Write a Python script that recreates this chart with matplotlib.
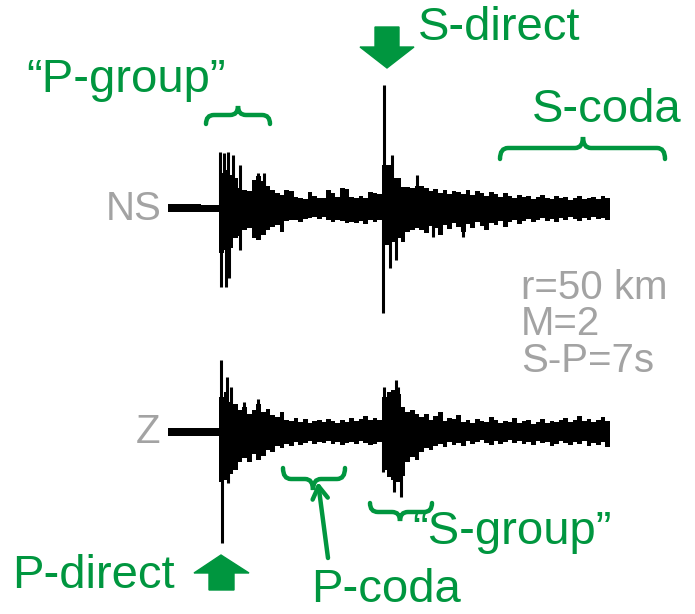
"""Sismograma NS / Z con fases P y S anotadas."""

import matplotlib.pyplot as plt
import numpy as np
from matplotlib.path import Path
from matplotlib.patches import PathPatch, Polygon

plt.rcParams["font.family"] = ["Liberation Sans", "DejaVu Sans"]

verde = "#00963F"
gris = "#A3A3A3"

# envolvente de la traza en bins de 0.2 s (arriba / abajo, en cuentas)
BIN_S = 0.2
ns_up = [4, 4, 4, 4, 4, 4, 4, 3, 3, 3, 3,
         35, 38, 33, 30, 20, 18, 17, 28, 32, 27, 22,
         18, 15, 13, 18, 17, 11, 10, 9, 16, 12, 10, 10, 18, 15, 11, 20, 19, 11,
         10, 12, 10, 16, 15, 14,
         43, 43, 30, 30, 21, 21, 20, 22,
         22, 20, 17, 19, 15, 18, 14, 17, 16, 14, 18, 13, 17, 15, 12, 16, 14, 11,
         15, 12, 10, 13, 11, 12, 9, 11, 13, 10, 9, 12, 10, 11, 8, 10, 12, 9, 10,
         11, 9, 12, 10]
ns_dn = [4, 4, 4, 4, 4, 4, 4, 4, 4, 4, 4,
         45, 42, 40, 30, 28, 22, 20, 30, 32, 27, 22,
         19, 17, 24, 13, 12, 12, 14, 11, 10, 9, 11, 9, 12, 14, 12, 13, 15, 14,
         15, 13, 16, 12, 14, 12,
         37, 37, 34, 30, 34, 24, 22, 20,
         22, 25, 18, 20, 27, 17, 21, 15, 19, 24, 16, 20, 14, 18, 22, 15, 17, 13,
         19, 14, 12, 16, 13, 11, 14, 12, 10, 13, 11, 14, 10, 12, 9, 11, 13, 10,
         12, 9, 11, 10, 12]
z_up = [4, 4, 4, 4, 4, 4, 4, 4, 4, 4, 4,
        35, 40, 30, 28, 22, 25, 18, 22, 28, 20, 23,
        17, 15, 20, 12, 11, 14, 10, 13, 9, 11, 12, 10, 13, 11, 9, 12, 10, 14,
        11, 13, 16, 12, 14, 12,
        35, 40, 42, 38, 25, 20, 22, 18,
        15, 18, 12, 16, 20, 11, 14, 13, 17, 10, 12, 9, 13, 11, 10, 15, 12, 9,
        11, 10, 14, 9, 11, 12, 8, 10, 13, 9, 11, 10, 12, 14, 10, 12, 16, 11, 13,
        10, 12, 15, 11]
z_dn = [4, 4, 4, 4, 4, 4, 4, 4, 4, 4, 4,
        50, 48, 42, 38, 30, 26, 30, 22, 28, 24, 18,
        20, 14, 16, 12, 14, 10, 13, 11, 9, 12, 10, 11, 9, 12, 10, 13, 11, 10,
        12, 9, 11, 13, 12, 10,
        38, 45, 48, 50, 44, 30, 25, 28,
        20, 16, 18, 14, 12, 15, 10, 13, 11, 14, 9, 12, 10, 8, 11, 13, 9, 12, 10,
        8, 11, 9, 12, 10, 13, 9, 11, 10, 14, 12, 9, 11, 13, 10, 12, 9, 14, 11,
        13, 10, 15]

# picos aislados (tiempo [s], amplitud)
ns_pico_t = [2.24, 2.41, 2.58, 2.79, 3.10, 3.87, 4.13, 2.28, 2.49, 2.62, 3.10,
             9.29, 9.63, 10.70, 9.24, 9.54, 9.80, 11.39, 12.68]
ns_pico_a = [56, 55, 56, 53, 43, 35, 35, -79, -79, -70, -42,
             123, 53, 33, -105, -60, -52, -29, -29]
z_pico_t = [2.28, 2.54, 2.71, 3.27, 3.87, 2.32, 2.58,
            9.29, 9.80, 9.89, 9.24, 9.72, 10.02]
z_pico_a = [72, 55, 45, 30, 33, -111, -51,
            45, 52, 45, -40, -60, -65]


fig = plt.figure(figsize=(6.95, 6.14), dpi=100)

# capa de anotaciones en pixeles
ax0 = fig.add_axes([0, 0, 1, 1])
ax0.set_xlim(0, 695)
ax0.set_ylim(614, 0)
ax0.axis("off")


def traza(y_base, up, dn, pt, pa):
    ax = fig.add_axes([168 / 695, 1 - (y_base + 130) / 614, 442 / 695, 260 / 614])
    ax.patch.set_alpha(0)
    ax.axis("off")
    edges = np.arange(len(up) + 1) * BIN_S
    ax.stairs(up, edges, baseline=-np.asarray(dn), fill=True, color="black")
    ax.vlines(pt, 0, pa, color="black", lw=2.2)
    ax.set_xlim(0, len(up) * BIN_S)
    ax.set_ylim(-130, 130)


traza(208, ns_up, ns_dn, ns_pico_t, ns_pico_a)
traza(432, z_up, z_dn, z_pico_t, z_pico_a)


def llave(x0, x1, y_fin, y_pico, xc=None):
    xc = (x0 + x1) / 2 if xc is None else xc
    yf = (y_fin + y_pico) / 2
    r = 8
    v = [(x0, y_fin), (x0, yf), (x0 + r, yf), (xc - r, yf), (xc, yf), (xc, y_pico),
         (xc, yf), (xc + r, yf), (x1 - r, yf), (x1, yf), (x1, y_fin)]
    c = [Path.MOVETO, Path.CURVE3, Path.CURVE3, Path.LINETO, Path.CURVE3, Path.CURVE3,
         Path.CURVE3, Path.CURVE3, Path.LINETO, Path.CURVE3, Path.CURVE3]
    ax0.add_patch(PathPatch(Path(v, c), fill=False, ec=verde, lw=3.2,
                            capstyle="round"))


llave(206, 270, 124, 106, 238)
llave(500, 665, 159, 137, 583)
llave(283, 345, 468, 490, 313)
llave(370, 432, 503, 521, 400)

# flechas gruesas
ax0.add_patch(Polygon([(375, 27), (399, 27), (399, 47), (414, 47), (387, 68),
                       (360, 47), (375, 47)], color=verde))
ax0.add_patch(Polygon([(209, 590), (234, 590), (234, 573), (249, 573), (221, 555),
                       (194, 573), (209, 573)], color=verde))
ax0.annotate("", xy=(318, 482), xytext=(328, 558),
             arrowprops=dict(arrowstyle="->,head_length=0.9,head_width=0.55",
                             color=verde, lw=3.2, shrinkA=0, shrinkB=0))

tv = dict(color=verde, fontsize=34, va="baseline")
ax0.text(418, 40, "S-direct", **tv)
ax0.text(26, 92, "\u201cP-group\u201d", **tv)
ax0.text(532, 122, "S-coda", **tv)
ax0.text(12, 588, "P-direct", **tv)
ax0.text(311, 602, "P-coda", **tv)
ax0.text(412, 544, "\u201cS-group\u201d", **tv)

tg = dict(color=gris, fontsize=29, va="baseline")
ax0.text(162, 220, "NS", ha="right", **tg)
ax0.text(160, 443, "Z", ha="right", **tg)
ax0.text(521, 299, "r=50 km", **tg)
ax0.text(521, 335, "M=2", **tg)
ax0.text(521, 372, "S-P=7s", **tg)

fig.savefig("out.png", dpi=100)
